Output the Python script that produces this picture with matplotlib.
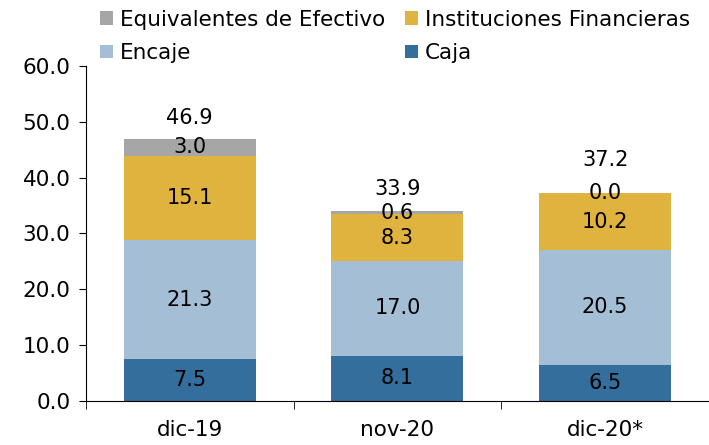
import matplotlib.pyplot as plt
import numpy as np

categories = ['dic-19', 'nov-20', 'dic-20*']
caja = [7.5, 8.1, 6.5]
encaje = [21.3, 17.0, 20.5]
instituciones = [15.1, 8.3, 10.2]
equivalentes = [3.0, 0.6, 0.0]
totales = [46.9, 33.9, 37.2]

col_caja = '#336e9c'
col_encaje = '#a4bed5'
col_inst = '#e0b33f'
col_equiv = '#a6a6a6'

# how far above the bar top each total label sits (axis units)
total_gap = [3.8, 4.1, 5.9]

fig = plt.figure(figsize=(7.09, 4.45), dpi=100)
ax = fig.add_axes([0.121, 0.099, 0.879, 0.753])

x = np.arange(len(categories))
w = 0.635
b1 = ax.bar(x, caja, w, color=col_caja, label='Caja')
bottom = np.array(caja)
b2 = ax.bar(x, encaje, w, bottom=bottom, color=col_encaje, label='Encaje')
bottom = bottom + np.array(encaje)
b3 = ax.bar(x, instituciones, w, bottom=bottom, color=col_inst, label='Instituciones Financieras')
bottom = bottom + np.array(instituciones)
b4 = ax.bar(x, equivalentes, w, bottom=bottom, color=col_equiv, label='Equivalentes de Efectivo')

fs = 15
for i in range(len(categories)):
    y0 = 0
    for seg in (caja, encaje, instituciones, equivalentes):
        ax.text(x[i], y0 + seg[i] / 2, '%.1f' % seg[i], ha='center', va='center', fontsize=fs)
        y0 += seg[i]
    ax.text(x[i], totales[i] + total_gap[i], '%.1f' % totales[i], ha='center', va='center', fontsize=fs)

ax.set_xlim(-0.5, 2.5)
ax.set_ylim(0, 60)
ax.set_yticks(np.arange(0, 61, 10))
ax.set_yticklabels(['%.1f' % v for v in np.arange(0, 61, 10)], fontsize=15.5)
ax.set_xticks(x)
ax.set_xticklabels(categories, fontsize=15.5)
ax.tick_params(axis='x', length=0, pad=14)
ax.set_xticks([-0.5, 0.5, 1.5, 2.5], minor=True)
ax.tick_params(axis='x', which='minor', length=6, direction='out')
ax.tick_params(axis='y', length=5, direction='out', pad=6)
ax.spines['top'].set_visible(False)
ax.spines['right'].set_visible(False)

fig.legend(handles=[b4, b2, b3, b1], ncol=2, loc='upper left', bbox_to_anchor=(0.114, 1.022),
           frameon=False, fontsize=15.5, handlelength=0.6, handleheight=0.6, handletextpad=0.3,
           columnspacing=0.95, labelspacing=0.62)

fig.savefig('out.png')
